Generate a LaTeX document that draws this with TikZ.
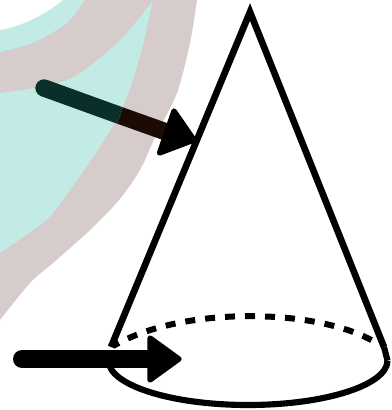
\documentclass[tikz,border=0pt]{standalone}
\usetikzlibrary{calc}
\definecolor{tealbg}{HTML}{C3EBE5}
\definecolor{rosebg}{HTML}{D6CCCB}
\definecolor{shaftteal}{HTML}{0A2E2A}
\definecolor{shaftrose}{HTML}{1C0A05}
\tikzset{
  cone/.style={line width=5pt,line join=miter,black},
  basesolid/.style={line width=4.6pt,black},
  basedash/.style={line width=4.5pt,black,dash pattern=on 7.5pt off 7.5pt},
  shaft/.style={line width=#1,line cap=round},
  head/.style={fill=black,draw=black,line width=4pt,line join=round},
}
\begin{document}
\begin{tikzpicture}[x=0.75pt,y=-0.75pt]
\useasboundingbox (0,0) rectangle (392,410);
% background swirl
\fill[tealbg] (63,0) .. controls (45,15) and (20,27) .. (0,30) -- (0,275) -- (70,220) -- (125,150) -- (150,90) -- (170,0) -- cycle;
\fill[rosebg] plot[smooth] coordinates {(85,0) (67,23) (33,43) (0,52)} -- plot[smooth] coordinates {(0,93) (67,80) (117,43) (153,0)} -- cycle;
\fill[rosebg] plot[smooth] coordinates {(197,0) (190,43) (177,93) (157,133) (140,170) (119,200) (90,230) (53,263) (30,283) (0,320)} -- plot[smooth] coordinates {(0,253) (43,223) (63,200) (100,147) (123,107) (140,57) (153,0)} -- cycle;
% cone
\coordinate (apex) at (250,12);
\coordinate (bl) at (111,347);
\coordinate (br) at (384,347);
\draw[cone] (bl) -- (apex) -- (br);
\draw[basesolid] (387.5,360.5) arc[start angle=0,end angle=180,x radius=139.5,y radius=44.5];
\draw[basesolid] (387.5,360.5) -- +(-3.5,-13.5);
\draw[basedash] (255,316) .. controls (200,316) and (150,325) .. (113,346);
\draw[basedash] (265,316.5) .. controls (300,317.5) and (345,325) .. (373,341);
% upper arrow
\coordinate (a1) at (44,88);
\coordinate (a1m) at (120,115.5);
\coordinate (a1e) at (172,134);
\draw[shaft=13pt,shaftrose,line cap=butt] (a1m) -- (a1e);
\draw[shaft=13pt,shaftteal,line cap=butt] (a1) -- (a1m);
\fill[shaftteal] (a1) circle (6.5pt);
\draw[head] (174,111) -- (194,140) -- (159.5,153) -- cycle;
% lower arrow
\coordinate (a2) at (22,359);
\coordinate (a2e) at (155,359);
\draw[shaft=13.5pt,black] (a2) -- (a2e);
\draw[head] (150,338) -- (179,359) -- (150,380) -- cycle;
\end{tikzpicture}
\end{document}
